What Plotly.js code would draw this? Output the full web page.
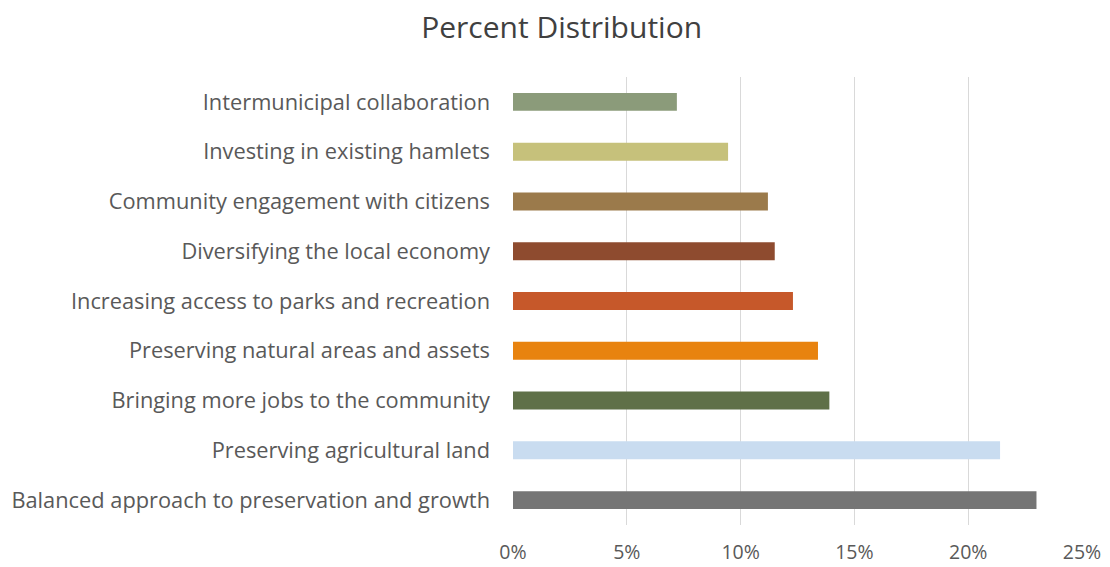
<!DOCTYPE html>
<html>
<head>
<meta charset="utf-8">
<script src="https://cdn.plot.ly/plotly-3.0.1.min.js"></script>
<style>html,body{margin:0;padding:0;background:#fff;}#chart{width:1110px;height:567px;}</style>
</head>
<body>
<div id="chart"></div>
<script>
const categories = [
  "Balanced approach to preservation and growth",
  "Preserving agricultural land",
  "Bringing more jobs to the community",
  "Preserving natural areas and assets",
  "Increasing access to parks and recreation",
  "Diversifying the local economy",
  "Community engagement with citizens",
  "Investing in existing hamlets",
  "Intermunicipal collaboration"
];
const percents = [23.0, 21.4, 13.9, 13.4, 12.3, 11.5, 11.2, 9.45, 7.2];
const barColors = ["#757575", "#c9dcf0", "#5f7048", "#e8830f", "#c6582a", "#8e4b2f", "#9b7a4b", "#c6c17b", "#8b9b7a"];
const tickVals = [0, 5, 10, 15, 20, 25];
const tickText = ["0%", "5%", "10%", "15%", "20%", "25%"];

Plotly.newPlot("chart", [{
  type: "bar",
  orientation: "h",
  y: categories,
  x: percents,
  marker: {color: barColors},
  hoverinfo: "x+y"
}], {
  width: 1110, height: 567,
  margin: {l: 513, r: 28, t: 77, b: 42},
  paper_bgcolor: "#fff", plot_bgcolor: "#fff",
  title: {text: "Percent Distribution", x: 0.506, xanchor: "center", y: 0.952, yanchor: "middle",
          font: {family: "Open Sans, sans-serif", size: 30, color: "#404040"}},
  bargap: 0.64,
  showlegend: false,
  xaxis: {range: [0, 25], tickvals: tickVals, ticktext: tickText, showgrid: true, gridcolor: "#d9d9d9",
          zeroline: false, showline: false, ticks: "", ticklabelstandoff: 13,
          tickfont: {family: "Open Sans, sans-serif", size: 19.5, color: "#595959"}},
  yaxis: {type: "category", categoryorder: "array", categoryarray: categories, showgrid: false, zeroline: false,
          showline: false, ticks: "", ticklabelstandoff: 22,
          tickfont: {family: "Open Sans, sans-serif", size: 21.8, color: "#595959"}}
}, {displayModeBar: false, staticPlot: true});
</script>
</body>
</html>
